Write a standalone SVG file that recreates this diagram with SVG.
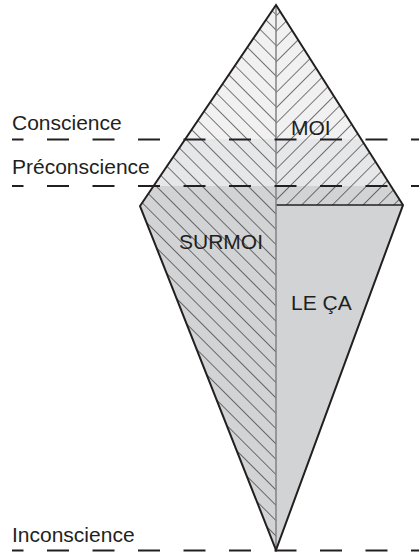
<svg xmlns="http://www.w3.org/2000/svg" width="419" height="552" viewBox="0 0 419 552">
  <style>
    .lbl { font-family: "Liberation Sans", Arial, sans-serif; font-size: 21px; fill: #231f20; }
    .dash { stroke: #231f20; stroke-width: 2; stroke-dasharray: 22 23.5; stroke-dashoffset: 10.5; fill: none; }
    .hatch { stroke: #231f20; stroke-width: 1.2; }
    .outline { fill: none; stroke: #231f20; stroke-width: 2; stroke-linejoin: miter; }
  </style>
  <defs>
    <linearGradient id="bands" gradientUnits="userSpaceOnUse" x1="0" y1="0" x2="0" y2="552">
      <stop offset="0" stop-color="#f1f1f2"/>
      <stop offset="0.2527" stop-color="#f1f1f2"/>
      <stop offset="0.2527" stop-color="#e6e7e8"/>
      <stop offset="0.337" stop-color="#e6e7e8"/>
      <stop offset="0.337" stop-color="#d1d3d4"/>
      <stop offset="1" stop-color="#d1d3d4"/>
    </linearGradient>
    <pattern id="hatchBack" patternUnits="userSpaceOnUse" width="10.842" height="10.842" patternTransform="translate(276,0) rotate(-45)">
      <line class="hatch" x1="0" y1="-1" x2="0" y2="12"/>
    </pattern>
    <pattern id="hatchFwd" patternUnits="userSpaceOnUse" width="10.842" height="10.842" patternTransform="translate(276,0) rotate(45)">
      <line class="hatch" x1="0" y1="-1" x2="0" y2="12"/>
    </pattern>
  </defs>

  <g id="diamond">
    <polygon points="276,5 140,206 276,550" fill="url(#bands)"/>
    <polygon points="276,5 403,205 276,205" fill="url(#bands)"/>
    <polygon points="276,205 403,205 276,550" fill="#d1d3d4"/>
    <polygon points="276,5 140,206 276,550" fill="url(#hatchBack)"/>
    <polygon points="276,5 403,205 276,205" fill="url(#hatchFwd)"/>
    <line x1="276" y1="205" x2="403" y2="205" stroke="#231f20" stroke-width="1.5"/>
    <line x1="276" y1="5" x2="276" y2="550" stroke="#808285" stroke-width="1.5"/>
    <polygon class="outline" points="276,5 403,205 276,550 140,206"/>
  </g>

  <g id="moi"><text class="lbl" x="291" y="135">MOI</text></g>
  <g id="surmoi"><text class="lbl" x="179" y="249">SURMOI</text></g>
  <g id="le-ca"><text class="lbl" x="291" y="310">LE ÇA</text></g>

  <g id="connectors">
    <line class="dash" x1="12" y1="139.5" x2="419" y2="139.5"/>
    <line class="dash" x1="12" y1="186" x2="419" y2="186"/>
    <line class="dash" x1="12" y1="550.5" x2="419" y2="550.5"/>
  </g>

  <g id="conscience"><text class="lbl" x="12" y="130">Conscience</text></g>
  <g id="preconscience"><text class="lbl" x="12" y="174">Préconscience</text></g>
  <g id="inconscience"><text class="lbl" x="12" y="542">Inconscience</text></g>
</svg>
